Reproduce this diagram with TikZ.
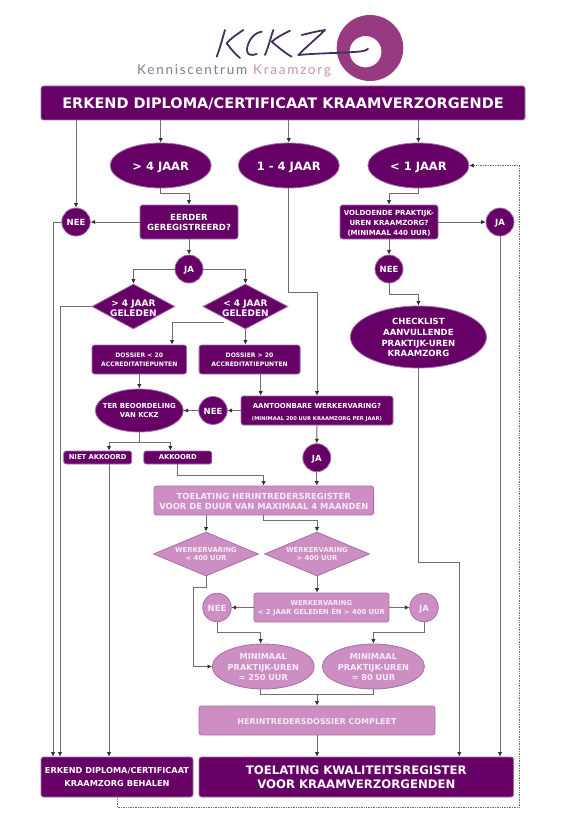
\documentclass[tikz,border=0pt]{standalone}
\usepackage{fontspec}
\setmainfont{DejaVu Sans}
\newfontfamily\logofont[LetterSpace=13]{Lato}
\usetikzlibrary{arrows.meta,shapes.geometric}
\definecolor{dk}{HTML}{660066}
\definecolor{dkb}{HTML}{A070A8}
\definecolor{lt}{HTML}{CC8EC3}
\definecolor{ltb}{HTML}{A86FA5}
\definecolor{ltx}{HTML}{F8EAF6}
\definecolor{ln}{HTML}{6E6E6E}
\definecolor{hd}{HTML}{303030}
\definecolor{ring}{HTML}{973A82}
\definecolor{ink}{HTML}{44305E}
\newcommand{\fs}[2]{\bfseries\fontsize{#1}{#2}\selectfont}
\tikzset{
  x=1pt,y=-1pt,
  base/.style={inner sep=0pt,line width=0.8pt,align=center},
  dbox/.style 2 args={base,rectangle,rounded corners=2.5pt,fill=dk,draw=dkb,minimum width=#1,minimum height=#2},
  lbox/.style 2 args={base,rectangle,rounded corners=2.5pt,fill=lt,draw=ltb,minimum width=#1,minimum height=#2},
  dell/.style 2 args={base,ellipse,fill=dk,draw=dkb,minimum width=#1,minimum height=#2},
  lell/.style 2 args={base,ellipse,fill=lt,draw=ltb,minimum width=#1,minimum height=#2},
  ddia/.style 2 args={base,diamond,fill=dk,draw=dkb,minimum width=#1,minimum height=#2,aspect=1.85},
  ldia/.style 2 args={base,diamond,fill=lt,draw=ltb,minimum width=#1,minimum height=#2,aspect=2.39},
  dt/.style={inner sep=0pt,align=center,text=white},
  lt2/.style={inner sep=0pt,align=center,text=ltx},
  arr/.style={draw=ln,line width=1pt,-{Latex[length=4.4pt,width=4.4pt,color=hd]}},
  wire/.style={draw=ln,line width=1pt},
  dots/.style={draw=ln,line width=0.7pt,densely dotted},
  stroke/.style={draw=ink,line width=1.8pt,line cap=round,line join=round},
}
\begin{document}
\begin{tikzpicture}
\useasboundingbox (0,0) rectangle (561,832);
% logo
\fill[ring,even odd rule] (370,48) ellipse [x radius=33.3,y radius=33] (365.5,51.7) ellipse [x radius=16,y radius=15.7];
\draw[stroke] (225,30) .. controls (222,40) and (220,48) .. (216.7,56.7);
\draw[stroke] (243.3,30) .. controls (236,35) and (230,39) .. (226.7,43.3) .. controls (231,49) and (235,54) .. (240,58);
\draw[stroke] (261.7,31.7) .. controls (252,33) and (247,44) .. (247,50) .. controls (247,55) and (251,56) .. (256.7,54);
\draw[stroke] (273.3,30) .. controls (270,40) and (268,48) .. (265,55);
\draw[stroke] (290,30.7) .. controls (283,34) and (276,38) .. (271.7,41.7) .. controls (278,47) and (285,53) .. (291.7,56.7);
\draw[stroke] (301.7,35) .. controls (310,33) and (318,31) .. (325,30) .. controls (316,39) and (306,47) .. (298.3,55) .. controls (320,53) and (345,53) .. (360,51.5) .. controls (364,51) and (367,50) .. (368,49);
\node[anchor=base west,inner sep=0pt,text=ink!65,font=\logofont\fontsize{13.5}{16}\selectfont] (logotxt) at (137,75) {Kenniscentrum};
\node[anchor=base west,inner sep=0pt,text=ring!55,font=\logofont\fontsize{13.5}{16}\selectfont] (logotxb) at (253,75) {Kraamzorg};
% rails
\coordinate (rA) at (0,193);
\coordinate (rB) at (53,0);
\coordinate (rC) at (60,0);
\coordinate (rD) at (0,292);
\coordinate (rE) at (0,294.5);
\coordinate (rF) at (224.3,322.7);
\coordinate (rG) at (172,0);
\coordinate (rH) at (0,442.7);
\coordinate (rI) at (0,475);
\coordinate (rJ) at (263.6,0);
\coordinate (rK) at (0,520);
\coordinate (rL) at (0,587);
\coordinate (rM) at (193.2,0);
\coordinate (rN) at (0,632.7);
\coordinate (rO) at (260.7,0);
\coordinate (rP) at (0,694.7);
\coordinate (rQ) at (0,562.7);
\coordinate (rR) at (459.3,0);
\coordinate (rS) at (0,807);
\coordinate (rT) at (519.6,0);
\coordinate (rU) at (109,0);
\coordinate (rV) at (170.4,0);
% nodes
\node[dbox={484pt}{34pt},label={[dt,yshift=-1pt,font=\fs{14.5}{17}]center:{ERKEND DIPLOMA/CERTIFICAAT KRAAMVERZORGENDE}}] (title) at (283,103) {};
\node[dell={101pt}{45pt},label={[dt,yshift=-1.5pt,font=\fs{11.5}{14}]center:{> 4 JAAR}}] (e4) at (160.7,165.5) {};
\node[dell={101pt}{45pt},label={[dt,yshift=-1.5pt,font=\fs{11.5}{14}]center:{1 - 4 JAAR}}] (e14) at (288.8,165.5) {};
\node[dell={101pt}{45pt},label={[dt,yshift=-1.5pt,font=\fs{11.5}{14}]center:{< 1 JAAR}}] (e1) at (418.4,165.5) {};
\node[dell={28.5pt}{28pt},label={[dt,yshift=-0.5pt,font=\fs{8.5}{10}]center:{NEE}}] (nl) at (76,222) {};
\node[dbox={98pt}{34pt},label={[dt,yshift=0pt,font=\fs{8.5}{10}]center:{EERDER\\GEREGISTREERD?}}] (eerder) at (189,222) {};
\node[dell={28pt}{28pt},label={[dt,yshift=-1.5pt,font=\fs{8.5}{10}]center:{JA}}] (ja1) at (189,269) {};
\node[dbox={98pt}{34pt},label={[dt,yshift=-1.2pt,font=\fs{7}{10.2}]center:{VOLDOENDE PRAKTIJK-\\UREN KRAAMZORG?\\(MINIMAAL 440 UUR)}}] (vold) at (389,222) {};
\node[dell={28pt}{28pt},label={[dt,yshift=-1.5pt,font=\fs{8.5}{10}]center:{JA}}] (ja2) at (500,222) {};
\node[dell={28pt}{28pt},label={[dt,yshift=-0.5pt,font=\fs{8.5}{10}]center:{NEE}}] (n2) at (389,269) {};
\node[ddia={83pt}{45pt},label={[dt,yshift=-1.5pt,font=\fs{9}{10.3}]center:{> 4 JAAR\\GELEDEN}}] (d1) at (133.4,306.5) {};
\node[ddia={85pt}{45pt},label={[dt,yshift=-1.5pt,font=\fs{9}{10.3}]center:{< 4 JAAR\\GELEDEN}}] (d2) at (245.4,306.5) {};
\node[dell={136pt}{62pt},label={[dt,yshift=-0.7pt,font=\fs{8.5}{10.6}]center:{CHECKLIST\\AANVULLENDE\\PRAKTIJK-UREN\\KRAAMZORG}}] (check) at (418.4,337) {};
\node[dbox={94.5pt}{29pt},label={[dt,yshift=-0.5pt,font=\fs{6.1}{8.5}]center:{DOSSIER < 20\\ACCREDITATIEPUNTEN}}] (dos1) at (139.3,359.5) {};
\node[dbox={101pt}{29pt},label={[dt,yshift=-0.5pt,font=\fs{6.1}{8.5}]center:{DOSSIER > 20\\ACCREDITATIEPUNTEN}}] (dos2) at (249.6,359.5) {};
\node[dell={88pt}{43pt},label={[dt,yshift=0pt,font=\fs{6.9}{8.8}]center:{TER BEOORDELING\\VAN KCKZ}}] (ter) at (139.3,410.5) {};
\node[dell={28.5pt}{28pt},label={[dt,yshift=-0.5pt,font=\fs{8.5}{10}]center:{NEE}}] (n3) at (213,410.5) {};
\node[dbox={152pt}{29pt},label={[dt,yshift=-1.5pt,font=\fs{6.9}{12}]center:{AANTOONBARE WERKERVARING?\\{\fs{5.2}{8}(MINIMAAL 200 UUR KRAAMZORG PER JAAR)}}}] (aan) at (317,410.5) {};
\node[dbox={68pt}{13pt},label={[dt,yshift=0pt,font=\fs{6.8}{9}]center:{NIET AKKOORD}}] (niet) at (97.7,457.5) {};
\node[dbox={68pt}{13pt},label={[dt,yshift=0pt,font=\fs{6.8}{9}]center:{AKKOORD}}] (akk) at (177.8,457.5) {};
\node[dell={28pt}{28pt},label={[dt,yshift=-1.5pt,font=\fs{8.5}{10}]center:{JA}}] (ja3) at (316.8,457.7) {};
\node[lbox={219.6pt}{29pt},label={[lt2,yshift=-0.5pt,font=\fs{8.4}{10}]center:{TOELATING HERINTREDERSREGISTER\\VOOR DE DUUR VAN MAXIMAAL 4 MAANDEN}}] (toel) at (263.8,500.5) {};
\node[ldia={105pt}{44pt},label={[lt2,font=\fs{6.8}{8.8}]center:{WERKERVARING\\< 400 UUR}}] (w1) at (206,554) {};
\node[ldia={105pt}{44pt},label={[lt2,font=\fs{6.8}{8.8}]center:{WERKERVARING\\> 400 UUR}}] (w2) at (317,554) {};
\node[lbox={135pt}{29pt},label={[lt2,yshift=-0.8pt,font=\fs{6.8}{8.8}]center:{WERKERVARING\\< 2 JAAR GELEDEN ÉN > 400 UUR}}] (werk) at (321.4,607.5) {};
\node[lell={28.5pt}{28.5pt},label={[lt2,yshift=-0.5pt,font=\fs{8.5}{10}]center:{NEE}}] (n4) at (217,607.5) {};
\node[lell={28.5pt}{28.5pt},label={[lt2,yshift=-1.5pt,font=\fs{8.5}{10}]center:{JA}}] (ja4) at (424,607.5) {};
\node[lell={102pt}{45pt},label={[lt2,yshift=-0.8pt,font=\fs{8.2}{10.7}]center:{MINIMAAL\\PRAKTIJK-UREN\\= 250 UUR}}] (m1) at (263.3,666.5) {};
\node[lell={102pt}{45pt},label={[lt2,yshift=-0.8pt,font=\fs{8.2}{10.7}]center:{MINIMAAL\\PRAKTIJK-UREN\\= 80 UUR}}] (m2) at (373.4,666.5) {};
\node[lbox={236pt}{29pt},label={[lt2,yshift=-0.8pt,font=\fs{8}{9}]center:{HERINTREDERSDOSSIER COMPLEET}}] (her) at (317,720.5) {};
\node[dbox={152pt}{40pt},label={[dt,font=\fs{8.2}{13.4}]center:{ERKEND DIPLOMA/CERTIFICAAT\\KRAAMZORG BEHALEN}}] (erk) at (117,777) {};
\node[dbox={314.6pt}{40pt},label={[dt,yshift=-0.5pt,font=\fs{11.7}{13.6}]center:{TOELATING KWALITEITSREGISTER\\VOOR KRAAMVERZORGENDEN}}] (kwal) at (356.3,777) {};
% connectors
\draw[arr] (title.south -| nl.north) -- (nl.north);
\draw[arr] (title.south -| e4.north) -- (e4.north);
\draw[arr] (title.south -| e14.north) -- (e14.north);
\draw[arr] (title.south -| e1.north) -- (e1.north);
\draw[arr] (e4.south) -- (e4.south |- rA) -| (eerder.north);
\draw[arr] (e1.south) -- (e1.south |- rA) -| (vold.north);
\draw[arr] (eerder.west) -- (nl.east);
\draw[arr] (nl.west) -| (erk.north -| rB);
\draw[arr] (eerder.south) -- (ja1.north);
\draw[arr] (ja1.west) -| (d1.north);
\draw[arr] (ja1.east) -| (d2.north);
\draw[arr] (d1.west) -| (erk.north -| rC);
\draw[arr] (vold.east) -- (ja2.west);
\draw[arr] (vold.south) -- (n2.north);
\draw[arr] (ja2.south) -- (kwal.north -| ja2.south);
\draw[arr] (n2.south) -- (n2.south |- rE) -| (check.north);
\draw[arr] (e14.south) -- (e14.south |- rD) -| (aan.north);
\draw[arr] (rF) -| (dos1.north -| rG);
\draw[arr] (d2.south) -- (dos2.north -| d2.south);
\draw[arr] (dos1.south) -- (ter.north);
\draw[arr] (dos2.south -| rO) -- (aan.north -| rO);
\draw[arr] (aan.west) -- (n3.east);
\draw[arr] (n3.west) -- (ter.east);
\draw[arr] (aan.south) -- (ja3.north);
\draw[arr] (ja3.south) -- (toel.north -| ja3.south);
\draw[wire] (ter.south) -- (ter.south |- rH);
\draw[arr] (ter.south |- rH) -| (niet.north -| rU);
\draw[arr] (ter.south |- rH) -| (akk.north -| rV);
\draw[arr] (niet.south -| rU) -- (erk.north -| rU);
\draw[arr] (akk.south) -- (akk.south |- rI) -| (toel.north -| rJ);
\draw[arr] (toel.south -| w1.north) -- (w1.north);
\draw[arr] (toel.south -| rJ) -- (rJ |- rK) -| (w2.north);
\draw[arr] (w1.south) -- (w1.south |- rL) -| (rM |- m1.west) -- (m1.west);
\draw[arr] (w2.south) -- (werk.north -| w2.south);
\draw[arr] (werk.west) -- (n4.east);
\draw[arr] (werk.east) -- (ja4.west);
\draw[arr] (n4.south) -- (n4.south |- rN) -| (m1.north -| rO);
\draw[arr] (ja4.south) -- (ja4.south |- rN) -| (m2.north);
\draw[wire] (m1.south -| rO) -- (rO |- rP) -| (m2.south);
\draw[arr] (her.north |- rP) -- (her.north);
\draw[arr] (her.south) -- (kwal.north -| her.south);
\draw[arr] (check.south) -- (check.south |- rQ) -| (kwal.north -| rR);
\draw[dots,-{Latex[length=4.4pt,width=4.4pt,color=hd]}] (erk.south) -- (erk.south |- rS) -| (rT |- e1.east) -- (e1.east);
\end{tikzpicture}
\end{document}
